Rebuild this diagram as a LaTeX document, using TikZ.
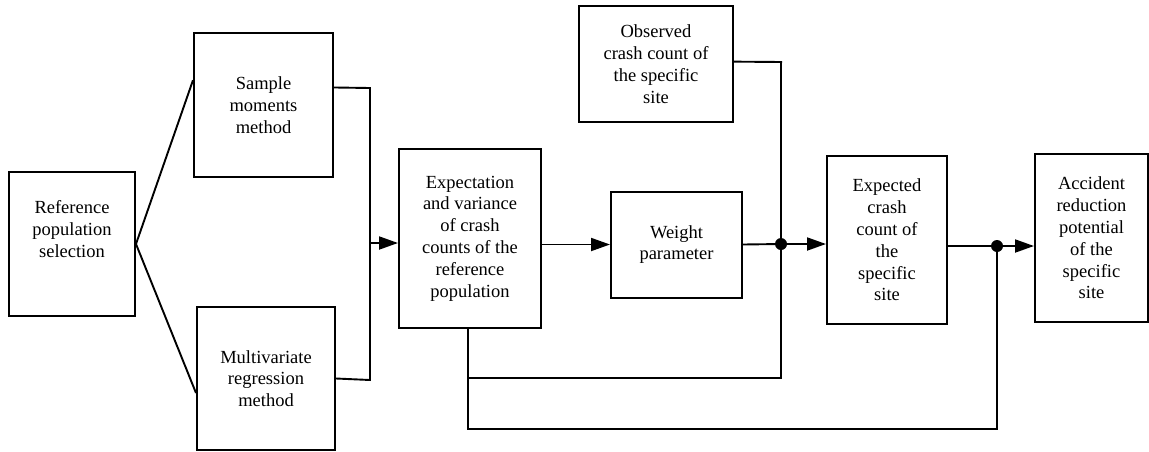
\documentclass[tikz,border=0pt]{standalone}
\usepackage{fontspec}
\setmainfont{Liberation Serif}
\usetikzlibrary{arrows.meta,calc}
\begin{document}
\begin{tikzpicture}[x=1pt,y=-1pt,
  box/.style={draw,line width=2pt,inner sep=0pt,align=center,
    font=\fontsize{18.5}{21.8}\selectfont},
  conn/.style={line width=1.9pt},
  arr/.style={line width=1.9pt,-{Triangle[length=19pt,width=13pt]}},
  jdot/.style={circle,fill=black,inner sep=0pt,minimum size=12pt}]
\useasboundingbox (0,0) rectangle (1149,451);
\node[box,minimum width=126pt,minimum height=144pt] (ref) at (72,244) {Reference\\population\\selection\\[8pt]};
\node[box,minimum width=139pt,minimum height=144pt] (sample) at (263.5,105) {Sample\\moments\\method};
\node[box,minimum width=138pt,minimum height=143pt] (multi) at (266,378.5) {Multivariate\\regression\\method};
\node[box,minimum width=142pt,minimum height=179pt] (expect) at (470,238.5) {Expectation\\and variance\\of crash\\counts of the\\reference\\population};
\node[box,minimum width=131pt,minimum height=106pt] (weight) at (676.5,244.5) {Weight\\parameter};
\node[box,minimum width=154pt,minimum height=116pt] (obs) at (656,64) {Observed\\crash count of\\the specific\\site};
\node[box,minimum width=120pt,minimum height=168pt] (expcr) at (887,240) {Expected\\crash\\count of\\the\\specific\\site};
\node[box,minimum width=113pt,minimum height=168pt] (acc) at (1091.5,238) {Accident\\reduction\\potential\\of the\\specific\\site};
% junctions
\coordinate (b1) at (370,88);
\coordinate (b2) at (370,380);
\coordinate (bin) at (370,243);
\node[jdot] (d1) at (781,244) {};
\node[jdot] (d2) at (997,246) {};
\coordinate (o1) at (782,62);
\coordinate (v1) at (781,378);
\coordinate (h1) at (468,378);
\coordinate (l1) at (468,429);
\coordinate (l2) at (997,429);
% fan
\draw[conn] (ref.east) -- ($(sample.north west)!0.33!(sample.south west)$);
\draw[conn] (ref.east) -- ($(multi.north west)!0.6!(multi.south west)$);
% bus
\draw[conn] ($(sample.north east)!0.38!(sample.south east)$) -- (b1) -- (b2) -- (multi.east);
\draw[arr] (bin) -- (bin -| expect.west);
\draw[arr] (expect.east |- weight.west) -- (weight.west);
\draw[conn] (weight.east) -- (d1);
\draw[arr] (d1) -- (d1 -| expcr.west);
\draw[conn] ($(obs.north east)!0.48!(obs.south east)$) -- (o1);
\draw[conn] (781,62) -- (v1) -- (h1);
\draw[conn] (h1 |- expect.south) -- (l1) -- (l2) -- (d2);
\draw[conn] (expcr.east |- d2) -- (d2);
\draw[arr] (d2) -- (d2 -| acc.west);
\end{tikzpicture}
\end{document}
